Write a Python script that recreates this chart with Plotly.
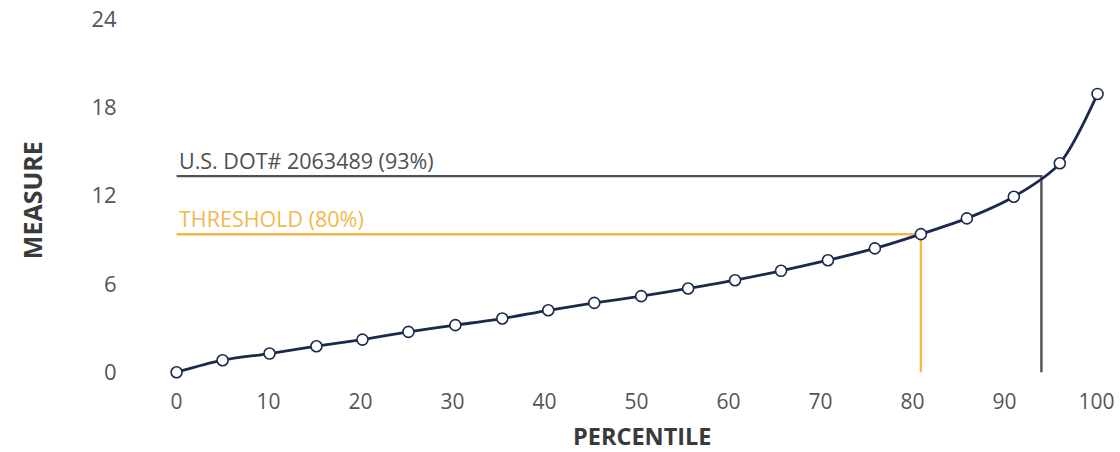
import plotly.graph_objects as go

# Data
percentile = [0.0, 5.0, 10.1, 15.2, 20.2, 25.2, 30.3, 35.4, 40.4, 45.4, 50.5,
              55.6, 60.7, 65.7, 70.8, 75.9, 80.9, 85.9, 91.0, 96.0, 100.1]
measure = [0.0, 0.82, 1.27, 1.77, 2.22, 2.74, 3.20, 3.65, 4.21, 4.71, 5.17,
           5.69, 6.25, 6.89, 7.61, 8.41, 9.38, 10.45, 11.92, 14.19, 18.90]

threshold_label = "THRESHOLD (80%)"
threshold_pct = 80.9
threshold_val = 9.37

dot_label = "U.S. DOT# 2063489 (93%)"
dot_pct = 94.0
dot_val = 13.32

x_ticks = [0, 10, 20, 30, 40, 50, 60, 70, 80, 90, 100]
y_ticks = [0, 6, 12, 18, 24]

NAVY = "#1b2a4c"
ORANGE = "#f2b84b"
DARK = "#505256"
FONT = "Open Sans"

W, H = 1120, 452
ml, mr, mt = 149, 5, 10
pw = W - ml - mr
plot_bottom = 386.7
mb = H - plot_bottom
ph = H - mt - mb

fig = go.Figure()

fig.add_trace(go.Scatter(
    x=[0, dot_pct, dot_pct], y=[dot_val, dot_val, 0],
    mode="lines", line=dict(color=DARK, width=2.4), hoverinfo="skip", showlegend=False))
fig.add_trace(go.Scatter(
    x=[0, threshold_pct, threshold_pct], y=[threshold_val, threshold_val, 0],
    mode="lines", line=dict(color=ORANGE, width=2.4), hoverinfo="skip", showlegend=False))

fig.add_trace(go.Scatter(
    x=percentile, y=measure, mode="lines+markers",
    line=dict(color=NAVY, width=2.8, shape="spline", smoothing=0.8),
    marker=dict(size=11, color="white", line=dict(color=NAVY, width=1.6)),
    showlegend=False))

fig.add_annotation(x=0, y=dot_val, xref="x", yref="y", text=dot_label,
                   showarrow=False, xanchor="left", yanchor="bottom", yshift=-1,
                   font=dict(family=FONT, size=21.5, color="#4f4f4f"))
fig.add_annotation(x=0, y=threshold_val, xref="x", yref="y", text=threshold_label,
                   showarrow=False, xanchor="left", yanchor="bottom", yshift=-1,
                   font=dict(family=FONT, size=21.5, color=ORANGE))

# axis titles (positions in page px converted to paper coords)
def px_to_paper(px, py):
    return (px - ml) / pw, (H - mb - py) / ph

mx, my = px_to_paper(32, 200)
fig.add_annotation(x=mx, y=my, xref="paper", yref="paper", text="<b>MEASURE</b>",
                   showarrow=False, textangle=-90, xanchor="center", yanchor="middle",
                   font=dict(family=FONT, size=25, color="#3a3a3a"))
px_, py_ = px_to_paper(642, 436)
fig.add_annotation(x=px_, y=py_, xref="paper", yref="paper", text="<b>PERCENTILE</b>",
                   showarrow=False, xanchor="center", yanchor="middle",
                   font=dict(family=FONT, size=23.5, color="#3a3a3a"))

fig.update_layout(
    width=W, height=H,
    margin=dict(l=ml, r=mr, t=mt, b=mb, autoexpand=False),
    paper_bgcolor="white", plot_bgcolor="white",
    font=dict(family=FONT, color="#555555", size=21),
    xaxis=dict(range=[-3, 102], tickvals=x_ticks, showgrid=False, zeroline=False,
               showline=False, ticks="", automargin=False,
               ticklabeloverflow="allow",
               tickfont=dict(size=21, color="#555555")),
    yaxis=dict(range=[-1, 24.6], tickvals=y_ticks, showgrid=False, zeroline=False,
               showline=False, ticks="outside", ticklen=27, tickcolor="rgba(0,0,0,0)",
               ticklabeloverflow="allow", automargin=False,
               tickfont=dict(size=22, color="#555555")),
)

fig.write_html("out.html",
               config={"displayModeBar": False},
               post_script="document.body.style.margin='0';")
